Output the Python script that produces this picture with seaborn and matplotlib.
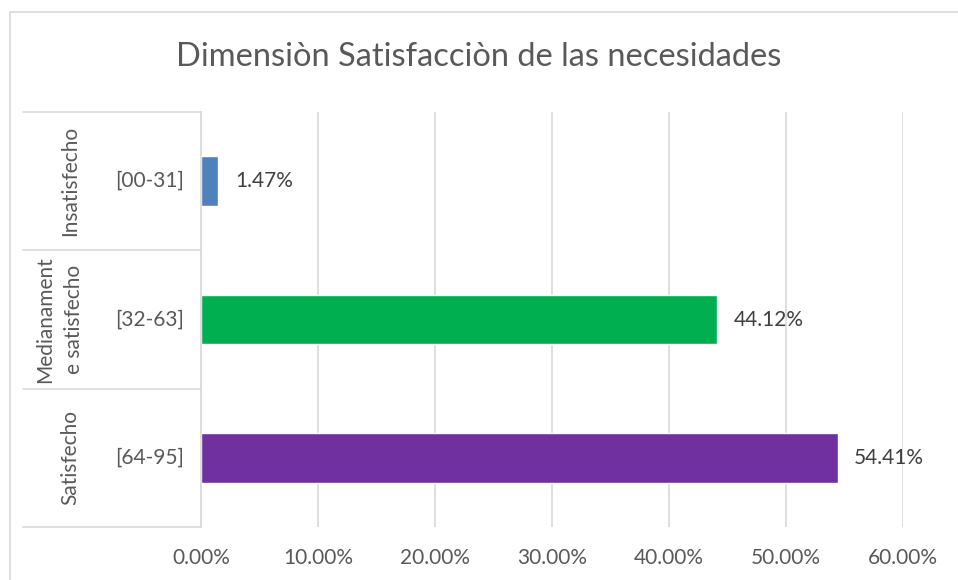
import matplotlib
matplotlib.use('Agg')
import matplotlib.pyplot as plt
import matplotlib.transforms as mtransforms
from matplotlib.patches import Rectangle
from matplotlib.ticker import FuncFormatter, MultipleLocator
import seaborn as sns

# ==========================================
# Data
# ==========================================
levels = ['Insatisfecho', 'Medianament\ne satisfecho', 'Satisfecho']
ranges = ['[00-31]', '[32-63]', '[64-95]']
percents = [1.47, 44.12, 54.41]
colors = ['#4f81bd', '#00b050', '#7030a0']

# ==========================================
# Figure
# ==========================================
sns.set_theme(style='white')
plt.rcParams['font.family'] = ['Lato', 'DejaVu Sans']

fig = plt.figure(figsize=(9.58, 5.8), dpi=100)
W, H = 958, 580
ax = fig.add_axes([201 / W, (H - 527) / H, 702 / W, (527 - 112) / H])

sns.barplot(x=percents, y=ranges, hue=ranges, palette=colors, width=0.36,
            orient='h', legend=False, saturation=1, ax=ax)

fs = 15
ax.set_xlim(0, 60)
ax.set_ylim(2.5, -0.5)
ax.xaxis.set_major_locator(MultipleLocator(10))
ax.xaxis.set_major_formatter(FuncFormatter(lambda v, p: f'{v:.2f}%'))
ax.tick_params(axis='x', length=0, pad=15, labelsize=fs, labelcolor='#595959')
ax.set_yticks([])
ax.set_xlabel('')
ax.set_ylabel('')
ax.grid(axis='x', color='#d9d9d9', linewidth=1.2)
ax.set_axisbelow(True)
for side in ['top', 'right', 'bottom']:
    ax.spines[side].set_visible(False)
ax.spines['left'].set_color('#d9d9d9')
ax.spines['left'].set_linewidth(1.2)

# data labels
for i, v in enumerate(percents):
    ax.annotate(f'{v:.2f}%', xy=(v, i), xytext=(12, 0), textcoords='offset points',
                va='center', ha='left', fontsize=fs, color='#404040')

# multi-level category axis
blend = mtransforms.blended_transform_factory(fig.transFigure, ax.transData)
for b in [-0.5, 0.5, 1.5, 2.5]:
    ax.plot([23 / W, 201 / W], [b, b], transform=blend, color='#d9d9d9',
            linewidth=1.2, clip_on=False)
for i, (lvl, rng) in enumerate(zip(levels, ranges)):
    ax.text(150 / W, i, rng, transform=blend, ha='center', va='center',
            fontsize=fs, color='#595959')
    xpos = 60 if '\n' in lvl else 70
    ax.text(xpos / W, i, lvl, transform=blend, ha='center', va='center',
            rotation=90, fontsize=fs, color='#595959', linespacing=1.55)

fig.suptitle('Dimensiòn Satisfacciòn de las necesidades', x=0.5, y=1 - 57 / H,
             va='center', fontsize=23.5, color='#595959')

# chart frame
fig.patches.append(Rectangle((10 / W, -0.01), 1.0, 1 - 12 / H + 0.01,
                             transform=fig.transFigure, fill=False,
                             edgecolor='#d9d9d9', linewidth=1.2))

fig.savefig('out.png', dpi=100)
